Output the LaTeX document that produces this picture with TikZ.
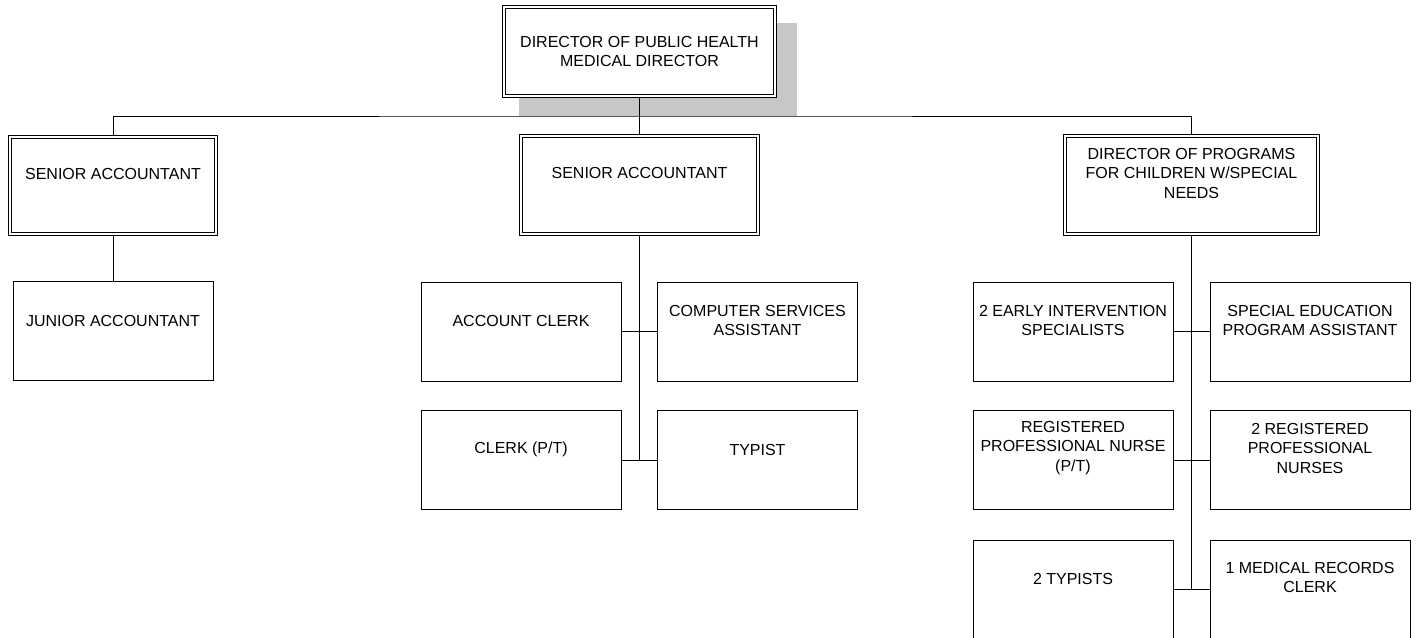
\documentclass[tikz,border=0pt]{standalone}
\usepackage{fontspec}
\setmainfont{Liberation Sans}
\usetikzlibrary{backgrounds}
\begin{document}
\begin{tikzpicture}[x=1pt,y=-1pt,
  box/.style={draw, fill=white, line width=0.95pt, minimum width=200pt, minimum height=99pt, inner sep=0pt},
  dbox/.style={draw, fill=white, line width=0.85pt, double=white, double distance=2.3pt, inner sep=0pt},
  lbl/.style={font=\fontsize{16}{19.5}\selectfont, align=center, inner sep=0pt},
  thinline/.style={line width=0.9pt},
  thickline/.style={line width=1.8pt}]
\useasboundingbox (0,0) rectangle (1418,637);

% top
\node[dbox, minimum width=271pt, minimum height=89pt] (top) at (639.5,51.5) {};
\node[lbl] (topt) at (top.center) {DIRECTOR OF PUBLIC HEALTH\\MEDICAL DIRECTOR};

% second level
\node[dbox, minimum width=206pt, minimum height=97pt] (sa1) at (113,185.5) {};
\node[lbl] (sa1t) at ([yshift=12pt]sa1.center) {SENIOR ACCOUNTANT};
\node[dbox, minimum width=237pt, minimum height=98pt] (sa2) at (639.5,185) {};
\node[lbl] (sa2t) at ([yshift=12pt]sa2.center) {SENIOR ACCOUNTANT};
\node[dbox, minimum width=253pt, minimum height=98pt] (dp) at (1191.5,185) {};
\node[lbl] (dpt) at ([yshift=12pt]dp.center) {DIRECTOR OF PROGRAMS\\FOR CHILDREN W/SPECIAL\\NEEDS};

% left branch
\node[box] (jr) at (113,331) {};
\node[lbl] (jrt) at ([yshift=10pt]jr.center) {JUNIOR ACCOUNTANT};

% centre branch
\node[box] (ac) at (521,331.5) {};
\node[lbl] (act) at ([yshift=10.5pt]ac.center) {ACCOUNT CLERK};
\node[box] (csa) at (757.5,331.5) {};
\node[lbl] (csat) at ([yshift=11pt]csa.center) {COMPUTER SERVICES\\ASSISTANT};
\node[box] (cl) at (521,460) {};
\node[lbl] (clt) at ([yshift=10.5pt]cl.center) {CLERK (P/T)};
\node[box] (ty) at (757.5,460) {};
\node[lbl] (tyt) at ([yshift=10.5pt]ty.center) {TYPIST};

% right branch
\node[box] (eis) at (1073,331.5) {};
\node[lbl] (eist) at ([yshift=11pt]eis.center) {2 EARLY INTERVENTION\\SPECIALISTS};
\node[box] (sepa) at (1310,331.5) {};
\node[lbl] (sepat) at ([yshift=11pt]sepa.center) {SPECIAL EDUCATION\\PROGRAM ASSISTANT};
\node[box] (rpn) at (1073,460) {};
\node[lbl] (rpnt) at ([yshift=12pt]rpn.center) {REGISTERED\\PROFESSIONAL NURSE\\(P/T)};
\node[box] (rpn2) at (1310,460) {};
\node[lbl] (rpn2t) at ([yshift=12pt]rpn2.center) {2 REGISTERED\\PROFESSIONAL\\NURSES};
\node[box] (typ2) at (1073,589.5) {};
\node[lbl] (typ2t) at ([yshift=11pt]typ2.center) {2 TYPISTS};
\node[box] (mrc) at (1310,589.5) {};
\node[lbl] (mrct) at ([yshift=12pt]mrc.center) {1 MEDICAL RECORDS\\CLERK};

\begin{pgfonlayer}{background}
  \fill[black!22] (519,23) rectangle (797,116);
  \coordinate (j) at (639.5,116);
  \draw[thickline] (top.south) -- (j);
  \draw[thinline] (sa1.north) |- (j) -| (dp.north);
  \draw[thinline] (j) -- (sa2.north);
  \draw[thinline] (sa1.south) -- (jr.north);
  % centre
  \coordinate (c2) at (sa2.south |- cl.east);
  \draw[thickline] (sa2.south) -- (c2);
  \draw[thinline] (ac.east) -- (csa.west);
  \draw[thinline] (cl.east) -- (ty.west);
  % right
  \coordinate (r3) at (dp.south |- typ2.east);
  \draw[thickline] (dp.south) -- (r3);
  \draw[thinline] (eis.east) -- (sepa.west);
  \draw[thinline] (rpn.east) -- (rpn2.west);
  \draw[thinline] (typ2.east) -- (mrc.west);
\end{pgfonlayer}
\end{tikzpicture}
\end{document}
